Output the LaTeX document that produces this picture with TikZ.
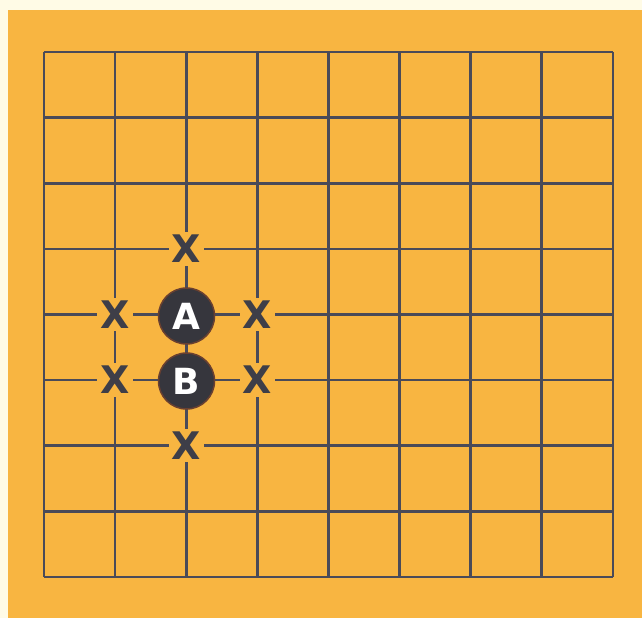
\documentclass[tikz,border=0pt]{standalone}
\usepackage{fontspec}
\setmainfont{DejaVu Sans}
\definecolor{cream}{HTML}{FFFBE6}
\definecolor{board}{HTML}{F8B541}
\definecolor{gridc}{HTML}{4A4A58}
\definecolor{stonec}{HTML}{36363D}
\definecolor{stoneedge}{HTML}{6A4030}
\definecolor{markc}{HTML}{3E3E48}
\begin{document}
\begin{tikzpicture}[x=1pt,y=-1pt,
  gridline/.style={gridc,line width=2.6pt},
  stone/.style={circle,minimum size=56pt,inner sep=0pt,
    fill=stonec,draw=stoneedge,line width=1.5pt,
    text=white,font=\bfseries\fontsize{36}{36}\selectfont},
  xmark/.style={fill=board,inner sep=3pt,text=markc,
    font=\bfseries\fontsize{38}{38}\selectfont}]
\useasboundingbox (0,0) rectangle (642,618);
\fill[cream] (0,0) rectangle (642,618);
\fill[board] (8,10) rectangle (642,618);
\foreach \i in {0,...,8}{
  \draw[gridline] ({44+\i*71.1},52) -- ({44+\i*71.1},577);
  \draw[gridline] (44,{52+\i*65.6}) -- (613,{52+\i*65.6});
}
\node[stone] (A) at (186.5,316) {A};
\node[stone] (B) at (186.5,381) {B};
\node[xmark] (x1) at (186.2,248.8) {X};
\node[xmark] (x2) at (115.1,314.4) {X};
\node[xmark] (x3) at (257.3,314.4) {X};
\node[xmark] (x4) at (115.1,380) {X};
\node[xmark] (x5) at (257.3,380) {X};
\node[xmark] (x6) at (186.2,445.6) {X};
\end{tikzpicture}
\end{document}
